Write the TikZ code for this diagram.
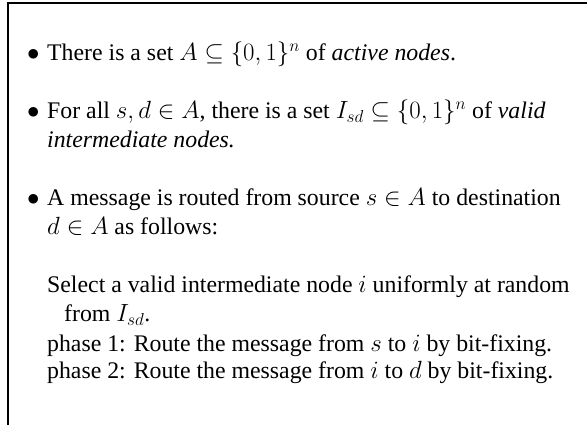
\documentclass[tikz,border=0pt]{standalone}
\usepackage[no-math]{fontspec}
\setmainfont{Liberation Serif}
\begin{document}
\begin{tikzpicture}[x=1pt,y=-1pt,
  txt/.style={anchor=base west,inner sep=0pt,font=\fontsize{23.8}{29}\selectfont},
  bul/.style={anchor=base west,inner sep=0pt,font=\fontsize{23.8}{29}\selectfont},
  frame/.style={line width=2pt}]
\useasboundingbox (0,0) rectangle (587,427);
% open frame: left and top edges only
\coordinate (fbl) at (8,425);
\coordinate (ftl) at (8,3);
\coordinate (ftr) at (587,3);
\draw[frame] (fbl) -- (ftl) -- (ftr);
% first item
\node[bul] (b1) at (27,61) {$\bullet$};
\node[txt] (l1) at (47,61) {There is a set $A \subseteq \{0,1\}^n$ of \textit{active nodes}.};
% second item
\node[bul] (b2) at (27,119) {$\bullet$};
\node[txt] (l2) at (47,119) {For all $s,d \in A$, there is a set $I_{sd} \subseteq \{0,1\}^n$ of \textit{valid}};
\node[txt] (l3) at (47,148) {\textit{intermediate nodes.}};
% third item
\node[bul] (b3) at (27,206) {$\bullet$};
\node[txt] (l4) at (47,206) {A message is routed from source $s \in A$ to destination};
\node[txt] (l5) at (47,235) {$d \in A$ as follows:};
% routing procedure
\node[txt] (l6) at (47,293) {Select a valid intermediate node $i$ uniformly at random};
\node[txt] (l7) at (64,322) {from $I_{sd}$.};
\node[txt] (l8) at (47,352) {phase 1: Route the message from $s$ to $i$ by bit-fixing.};
\node[txt] (l9) at (47,379) {phase 2: Route the message from $i$ to $d$ by bit-fixing.};
\end{tikzpicture}
\end{document}
